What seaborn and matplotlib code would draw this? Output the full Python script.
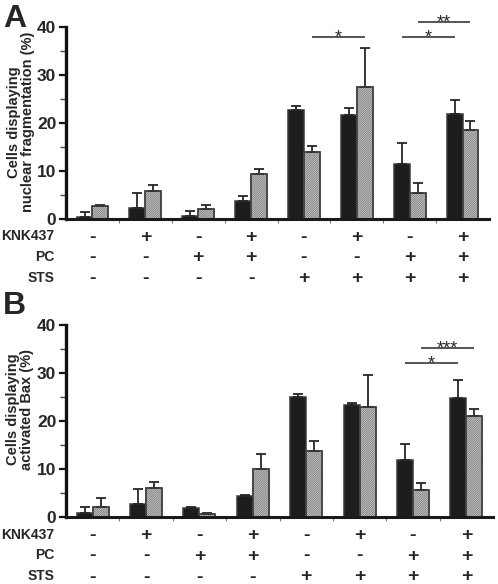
import numpy as np
import pandas as pd
import matplotlib
matplotlib.use('Agg')
import matplotlib.pyplot as plt
import matplotlib.transforms as mtransforms
from matplotlib.patches import Rectangle
from matplotlib.ticker import FixedLocator
import seaborn as sns

# ---------------- data ----------------
groups = ['G1', 'G2', 'G3', 'G4', 'G5', 'G6', 'G7', 'G8']
series = ['solid', 'hatched']
knk437 = ['-', '+', '-', '+', '-', '+', '-', '+']
pc = ['-', '-', '+', '+', '-', '-', '+', '+']
sts = ['-', '-', '-', '-', '+', '+', '+', '+']
row_labels = ['KNK437', 'PC', 'STS']
y_ticks = [0, 10, 20, 30, 40]

a_solid = [0.5, 2.3, 0.6, 3.7, 22.8, 21.7, 11.4, 21.8]
a_solid_err = [0.9, 3.2, 1.05, 1.1, 0.8, 1.4, 4.4, 2.9]
a_hatch = [2.8, 5.9, 2.0, 9.4, 14.0, 27.5, 5.5, 18.6]
a_hatch_err = [0.2, 1.1, 1.0, 1.1, 1.2, 8.2, 2.0, 1.8]

b_solid = [1.0, 2.8, 2.0, 4.5, 25.0, 23.4, 11.9, 24.8]
b_solid_err = [1.2, 3.0, 0.2, 0.15, 0.7, 0.4, 3.3, 3.7]
b_hatch = [2.2, 6.0, 0.6, 10.1, 13.9, 23.0, 5.7, 21.0]
b_hatch_err = [1.8, 1.4, 0.4, 3.1, 2.0, 6.6, 1.5, 1.5]

# (group i, group j, series, height, label)
a_sig = [(4, 5, 'hatched', 37.9, '*'), (6, 7, 'solid', 37.9, '*'), (6, 7, 'hatched', 41.0, '**')]
b_sig = [(6, 7, 'solid', 32.1, '*'), (6, 7, 'hatched', 35.2, '***')]

a_ylabel = 'Cells displaying\nnuclear fragmentation (%)'
b_ylabel = 'Cells displaying\nactivated Bax (%)'

# ---------------- style ----------------
sns.set_style('ticks')
plt.rcParams['font.family'] = ['Liberation Sans', 'DejaVu Sans']
plt.rcParams['hatch.linewidth'] = 0.6

W, H = 498, 584
fig = plt.figure(figsize=(W / 100, H / 100), dpi=100)


def draw_panel(rect, solid, solid_err, hatch, hatch_err, sig, ylabel, label_y, letter, letter_top):
    ax = fig.add_axes(rect)
    df = pd.DataFrame({
        'group': groups * 2,
        'series': [series[0]] * len(groups) + [series[1]] * len(groups),
        'value': solid + hatch,
    })
    sns.barplot(data=df, x='group', y='value', hue='series', order=groups, hue_order=series,
                palette={'solid': '#1d1d1d', 'hatched': '#ffffff'}, width=0.6, saturation=1,
                errorbar=None, legend=False, ax=ax, linewidth=1.1, edgecolor='#3a3a3a')
    centers = {}
    for cont, s, errs in zip(ax.containers, series, [solid_err, hatch_err]):
        xs = [b.get_x() + b.get_width() / 2 for b in cont]
        hs = [b.get_height() for b in cont]
        centers[s] = xs
        ax.errorbar(xs, hs, yerr=[np.zeros(len(errs)), errs], fmt='none', ecolor='#262626',
                    elinewidth=1.3, capsize=3.5, capthick=1.3, zorder=1)
        if s == 'hatched':
            for b in cont:
                b.set_hatch('/' * 18)
                b.set_edgecolor('#6e6e6e')
                ax.add_patch(Rectangle(b.get_xy(), b.get_width(), b.get_height(), fill=False,
                                       edgecolor='#3a3a3a', lw=1.1, zorder=b.get_zorder() + 0.1))
    ax.set_xlim(-0.5, len(groups) - 0.5)
    ax.set_ylim(0, 40)
    ax.set_yticks(y_ticks)
    ax.set_yticklabels([str(t) for t in y_ticks], fontweight='bold', fontsize=12.5)
    ax.yaxis.set_minor_locator(FixedLocator([5, 15, 25, 35]))
    ax.tick_params(axis='y', which='major', length=5, width=1.6, color='#111', pad=2)
    ax.tick_params(axis='y', which='minor', length=4, width=1.0, color='#444')
    ax.tick_params(axis='x', which='major', length=0, labelbottom=False)
    ax.xaxis.set_minor_locator(FixedLocator(np.arange(0.5, len(groups) - 1, 1.0)))
    ax.tick_params(axis='x', which='minor', length=3, width=0.8, color='#777')
    ax.set_xlabel('')
    ax.set_ylabel(ylabel, fontsize=10.5, fontweight='bold', linespacing=1.0)
    ax.yaxis.set_label_coords(-0.074, label_y)
    for side in ['top', 'right']:
        ax.spines[side].set_visible(False)
    ax.spines['left'].set_linewidth(2.4)
    ax.spines['left'].set_color('#111')
    ax.spines['bottom'].set_linewidth(2.2)
    ax.spines['bottom'].set_color('#1a1a1a')

    # significance brackets
    for i, j, s, h, txt in sig:
        x1, x2 = centers[s][i], centers[s][j]
        ax.plot([x1, x2], [h, h], color='#555', lw=1.4, clip_on=False, solid_capstyle='butt')
        ax.annotate(txt, xy=((x1 + x2) / 2, h), xytext=(0, -5), textcoords='offset pixels',
                    ha='center', va='baseline', fontsize=13, color='#2a2a2a', annotation_clip=False)

    # treatment table below axis
    trans = mtransforms.blended_transform_factory(ax.transData, ax.transAxes)
    row_centers = [16.5, 37, 58]
    for lab, vals, rc in zip(row_labels, [knk437, pc, sts], row_centers):
        ax.annotate(lab, xy=(0, 0), xycoords='axes fraction', xytext=(-12, -(rc + 4.8)),
                    textcoords='offset pixels', ha='right', va='baseline',
                    fontsize=10, fontweight='bold', annotation_clip=False)
        for k, v in enumerate(vals):
            ax.annotate(v, xy=(k, 0), xycoords=trans, xytext=(0, -(rc + 6.2)),
                        textcoords='offset pixels', ha='center', va='baseline',
                        fontsize=14, fontweight='bold', annotation_clip=False)
    fig.text(3 / W, 1 - letter_top / H, letter, fontsize=23, fontweight='bold', ha='left', va='top')
    return ax


axA = draw_panel([66 / W, 1 - 219 / H, 423 / W, 192 / H], a_solid, a_solid_err, a_hatch, a_hatch_err,
                 a_sig, a_ylabel, 0.505, 'A', 4)
axB = draw_panel([66 / W, 1 - 517.3 / H, 427 / W, 192 / H], b_solid, b_solid_err, b_hatch, b_hatch_err,
                 b_sig, b_ylabel, 0.561, 'B', 291)

fig.savefig('out.png', dpi=100)
